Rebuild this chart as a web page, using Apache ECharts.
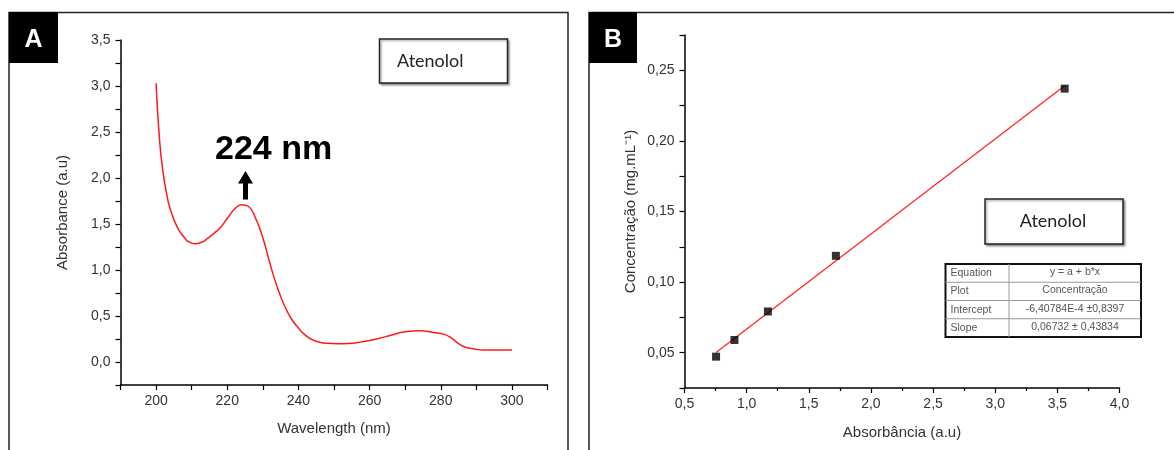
<!DOCTYPE html>
<html>
<head>
<meta charset="utf-8">
<script src="https://cdn.jsdelivr.net/npm/echarts@6/dist/echarts.min.js"></script>
<style>
html,body{margin:0;padding:0;background:#fff;}
#chart{width:1174px;height:450px;}
</style>
</head>
<body>
<div id="chart"></div>
<script>
// ---- Panel A: UV spectrum ----
const wavelength = [200,201,202,203,204,206,208,209,211,213,214,216,218,220,222,224,226,228,230,232,234,236,238,240,242,244,246,248,251,254,258,262,266,270,274,278,281,283,285,287,289,292,296,300];
const absorbance = [3.03,2.40,2.05,1.82,1.66,1.46,1.35,1.31,1.285,1.305,1.33,1.39,1.46,1.56,1.66,1.71,1.69,1.56,1.35,1.07,0.82,0.62,0.47,0.37,0.29,0.24,0.215,0.203,0.198,0.20,0.22,0.25,0.29,0.33,0.34,0.32,0.30,0.26,0.20,0.16,0.145,0.13,0.13,0.13];
const peakLabel = '224 nm';
const xRangeA = [190, 310];
const yRangeA = [-0.25, 3.5];

// ---- Panel B: calibration curve ----
const absB = [0.754, 0.902, 1.171, 1.718, 3.559];
const concB = [0.0472, 0.0590, 0.0792, 0.1186, 0.2370];
const fitX = [0.754, 3.559];
const fitY = [0.0501, 0.2390];
const xRangeB = [0.5, 4.0];
const yRangeB = [0.025, 0.275];
const tableRows = [
  ['Equation', 'y = a + b*x'],
  ['Plot', 'Concentração'],
  ['Intercept', '-6,40784E-4 ±0,8397'],
  ['Slope', '0,06732 ± 0,43834']
];

const FONT = '"Liberation Sans", Arial, sans-serif';
const comma = (v, d) => v.toFixed(d).replace('.', ',');
const isMult = (v, step) => Math.abs(v / step - Math.round(v / step)) < 1e-6;

const axisLineStyle = { color: '#000', width: 1.5 };
const tickLabelStyle = { color: '#333', fontFamily: FONT, fontSize: 14 };
const nameStyle = { color: '#333', fontFamily: FONT, fontSize: 15 };

const chart = echarts.init(document.getElementById('chart'), null, { renderer: 'canvas' });

// table graphics
const tbl = { x: 945.5, y: 264, w: 195.5, h: 73, div: 1009 };
const rowH = tbl.h / tableRows.length;
const tableGraphics = [];
tableGraphics.push({ type: 'rect', shape: { x: tbl.x, y: tbl.y, width: tbl.w, height: tbl.h }, style: { fill: '#fff', stroke: '#111', lineWidth: 2 }, z: 10 });
for (let i = 1; i < tableRows.length; i++) {
  tableGraphics.push({ type: 'line', shape: { x1: tbl.x, y1: tbl.y + i * rowH, x2: tbl.x + tbl.w, y2: tbl.y + i * rowH }, style: { stroke: '#999', lineWidth: 1 }, z: 11 });
}
tableGraphics.push({ type: 'line', shape: { x1: tbl.div, y1: tbl.y, x2: tbl.div, y2: tbl.y + tbl.h }, style: { stroke: '#999', lineWidth: 1 }, z: 11 });
tableRows.forEach((r, i) => {
  const cy = tbl.y + (i + 0.5) * rowH;
  tableGraphics.push({ type: 'text', x: tbl.x + 5, y: cy, style: { text: r[0], fill: '#555', font: '10.5px ' + FONT, textAlign: 'left', textVerticalAlign: 'middle' }, z: 12 });
  tableGraphics.push({ type: 'text', x: (tbl.div + tbl.x + tbl.w) / 2, y: cy - 1, style: { text: r[1], fill: '#555', font: '10.5px ' + FONT, textAlign: 'center', textVerticalAlign: 'middle' }, z: 12 });
});

const option = {
  animation: false,
  backgroundColor: '#fff',
  grid: [
    { left: 120.5, top: 40, width: 427, height: 345 },
    { left: 684.5, top: 35, width: 435, height: 353 }
  ],
  xAxis: [
    {
      gridIndex: 0, type: 'value', min: xRangeA[0], max: xRangeA[1], interval: 10,
      name: 'Wavelength (nm)', nameLocation: 'middle', nameGap: 36, nameTextStyle: nameStyle,
      axisLine: { onZero: false, lineStyle: axisLineStyle },
      axisTick: { length: 5, lineStyle: { color: '#000', width: 1.2 } },
      axisLabel: Object.assign({ margin: 9, formatter: v => isMult(v, 20) ? String(v) : '' }, tickLabelStyle),
      splitLine: { show: false }
    },
    {
      gridIndex: 1, type: 'value', min: xRangeB[0], max: xRangeB[1], interval: 0.5,
      name: 'Absorbância (a.u)', nameLocation: 'middle', nameGap: 37, nameTextStyle: nameStyle,
      axisLine: { onZero: false, lineStyle: axisLineStyle },
      axisTick: { length: 5, lineStyle: { color: '#000', width: 1.2 } },
      minorTick: { show: true, splitNumber: 2, length: 3, lineStyle: { color: '#000', width: 1.2 } },
      axisLabel: Object.assign({ margin: 9, formatter: v => comma(v, 1) }, tickLabelStyle),
      splitLine: { show: false }
    }
  ],
  yAxis: [
    {
      gridIndex: 0, type: 'value', min: yRangeA[0], max: yRangeA[1], interval: 0.25,
      name: 'Absorbance (a.u)', nameLocation: 'middle', nameGap: 50, nameTextStyle: nameStyle,
      axisLine: { onZero: false, lineStyle: axisLineStyle },
      axisTick: { length: 5, lineStyle: { color: '#000', width: 1.2 } },
      axisLabel: Object.assign({ margin: 10, formatter: v => (isMult(v, 0.5) ? comma(v, 1) : '') }, tickLabelStyle),
      splitLine: { show: false }
    },
    {
      gridIndex: 1, type: 'value', min: yRangeB[0], max: yRangeB[1], interval: 0.025,
      name: 'Concentração (mg.mL⁻¹)', nameLocation: 'middle', nameGap: 46, nameTextStyle: nameStyle,
      axisLine: { onZero: false, lineStyle: axisLineStyle },
      axisTick: { length: 5, lineStyle: { color: '#000', width: 1.2 } },
      axisLabel: Object.assign({ margin: 10, formatter: v => (isMult(v, 0.05) ? comma(v, 2) : '') }, tickLabelStyle),
      splitLine: { show: false }
    }
  ],
  series: [
    {
      type: 'line', xAxisIndex: 0, yAxisIndex: 0,
      data: wavelength.map((w, i) => [w, absorbance[i]]),
      smooth: 0.5, showSymbol: false,
      lineStyle: { color: '#ff1a1a', width: 1.5 }, z: 3
    },
    {
      type: 'line', xAxisIndex: 1, yAxisIndex: 1,
      data: fitX.map((x, i) => [x, fitY[i]]),
      showSymbol: false, lineStyle: { color: '#ff2020', width: 1.2 }, z: 3
    },
    {
      type: 'scatter', xAxisIndex: 1, yAxisIndex: 1,
      data: absB.map((x, i) => [x, concB[i]]),
      symbol: 'rect', symbolSize: 8, itemStyle: { color: '#000' }, z: 4
    }
  ],
  graphic: [
    { type: 'rect', shape: { x: 9, y: 12.5, width: 559, height: 460 }, style: { fill: 'none', stroke: '#222', lineWidth: 1.5 }, z: 1 },
    { type: 'rect', shape: { x: 589, y: 12.5, width: 620, height: 460 }, style: { fill: 'none', stroke: '#222', lineWidth: 1.5 }, z: 1 },
    { type: 'rect', shape: { x: 9, y: 12, width: 49, height: 51 }, style: { fill: '#000' }, z: 2 },
    { type: 'text', x: 33.5, y: 40, style: { text: 'A', fill: '#fff', font: 'bold 25px ' + FONT, textAlign: 'center', textVerticalAlign: 'middle' }, z: 3 },
    { type: 'rect', shape: { x: 589, y: 12, width: 48, height: 51 }, style: { fill: '#000' }, z: 2 },
    { type: 'text', x: 613, y: 40, style: { text: 'B', fill: '#fff', font: 'bold 25px ' + FONT, textAlign: 'center', textVerticalAlign: 'middle' }, z: 3 },
    { type: 'rect', shape: { x: 379.5, y: 39, width: 128, height: 44 }, style: { fill: '#fff', stroke: '#222', lineWidth: 1.5, shadowColor: 'rgba(0,0,0,0.35)', shadowBlur: 2, shadowOffsetX: 1.5, shadowOffsetY: 1.5 }, z: 5 },
    { type: 'text', x: 397, y: 61, style: { text: 'Atenolol', fill: '#222', font: '18px Lato, "Open Sans", sans-serif', textAlign: 'left', textVerticalAlign: 'middle' }, z: 6 },
    { type: 'rect', shape: { x: 985, y: 199, width: 138, height: 45 }, style: { fill: '#fff', stroke: '#222', lineWidth: 1.5, shadowColor: 'rgba(0,0,0,0.35)', shadowBlur: 2, shadowOffsetX: 1.5, shadowOffsetY: 1.5 }, z: 5 },
    { type: 'text', x: 1053, y: 221, style: { text: 'Atenolol', fill: '#222', font: '18px Lato, "Open Sans", sans-serif', textAlign: 'center', textVerticalAlign: 'middle' }, z: 6 },
    { type: 'text', x: 215, y: 167, style: { text: peakLabel, fill: '#000', font: 'bold 34px ' + FONT, textAlign: 'left', textVerticalAlign: 'bottom' }, z: 6 },
    { type: 'polygon', shape: { points: [[245.5, 171], [238, 183.5], [253, 183.5]] }, style: { fill: '#000' }, z: 6 },
    { type: 'rect', shape: { x: 243, y: 182, width: 5, height: 17.5 }, style: { fill: '#000' }, z: 6 }
  ].concat(tableGraphics)
};
chart.setOption(option);
</script>
</body>
</html>
